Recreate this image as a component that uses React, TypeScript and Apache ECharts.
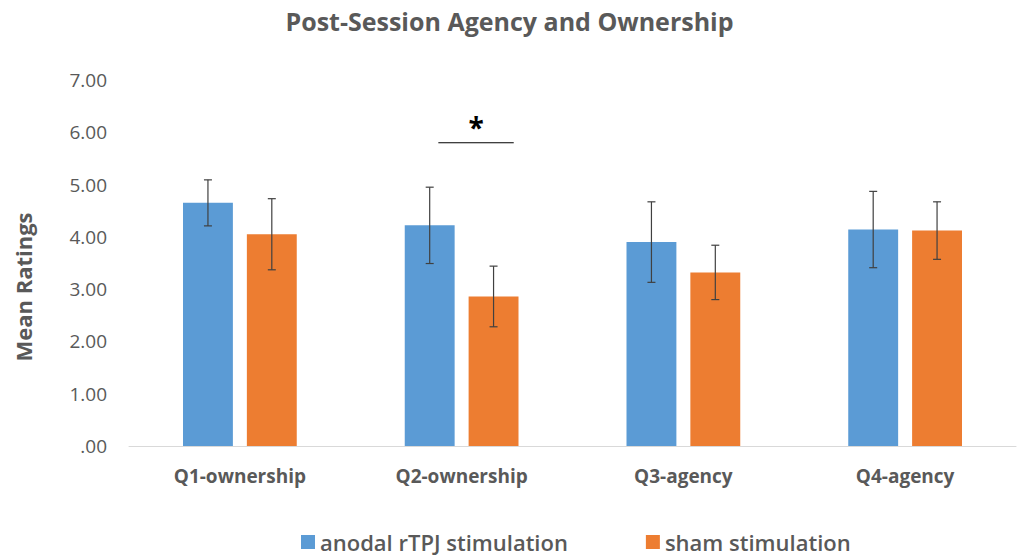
import React, { useEffect, useRef } from "react";
import * as echarts from "echarts";

const categories = ["Q1-ownership", "Q2-ownership", "Q3-agency", "Q4-agency"];
const seriesNames = ["anodal rTPJ stimulation", "sham stimulation"];
const anodalMeans = [4.65, 4.22, 3.9, 4.14];
const anodalErr = [0.44, 0.73, 0.77, 0.73];
const shamMeans = [4.05, 2.86, 3.32, 4.12];
const shamErr = [0.68, 0.58, 0.52, 0.55];
const sigCategoryIndex = 1;
const sigLevel = 5.8;
const sigLabel = "*";

const BLUE = "#5B9BD5";
const ORANGE = "#ED7D31";
const FONT = "'Open Sans', sans-serif";

export default function App() {
  const ref = useRef<HTMLDivElement>(null);
  useEffect(() => {
    document.body.style.margin = "0";
    if (!ref.current) return;
    const chart = echarts.init(ref.current, null, { renderer: "svg" });
    const barWidthPct = 0.225;
    const gapPct = 0.28;
    const makeErr = (means: number[], errs: number[], idx: number) => ({
      type: "custom",
      name: seriesNames[idx] + " err",
      z: 10,
      silent: true,
      data: means.map((m, i) => [i, m - errs[i], m + errs[i]]),
      renderItem: (params: any, api: any) => {
        const i = api.value(0);
        const lo = api.coord([i, api.value(1)]);
        const hi = api.coord([i, api.value(2)]);
        const band = api.size([1, 0])[0];
        const bw = band * barWidthPct;
        const gap = bw * gapPct;
        const offset = ((bw + gap) / 2) * (idx === 0 ? -1 : 1);
        const x = lo[0] + offset;
        const cap = 4;
        const style = { stroke: "#404040", lineWidth: 1.2 };
        return {
          type: "group",
          children: [
            { type: "line", shape: { x1: x, y1: hi[1], x2: x, y2: lo[1] }, style },
            { type: "line", shape: { x1: x - cap, y1: hi[1], x2: x + cap, y2: hi[1] }, style },
            { type: "line", shape: { x1: x - cap, y1: lo[1], x2: x + cap, y2: lo[1] }, style },
          ],
        };
      },
    });
    chart.setOption({
      animation: false,
      title: {
        text: "Post-Session Agency and Ownership",
        left: "center",
        top: 3,
        textStyle: { fontFamily: FONT, fontWeight: "bold", fontSize: 25, color: "#595959" },
      },
      grid: { left: 129, right: 3, top: 80, bottom: 110 },
      legend: {
        top: 526,
        left: 296,
        data: seriesNames,
        itemWidth: 14,
        itemHeight: 14,
        itemGap: 78,
        icon: "rect",
        textStyle: { fontFamily: FONT, fontSize: 22, fontWeight: 600, color: "#595959" },
      },
      xAxis: {
        type: "category",
        data: categories,
        axisLine: { lineStyle: { color: "#D9D9D9" } },
        axisTick: { show: false },
        axisLabel: { fontFamily: FONT, fontSize: 19, fontWeight: "bold", color: "#595959", margin: 20 },
      },
      yAxis: {
        type: "value",
        min: 0,
        max: 7,
        interval: 1,
        name: "Mean Ratings",
        nameLocation: "middle",
        nameGap: 95,
        nameRotate: 90,
        nameTextStyle: {
          fontFamily: FONT,
          fontSize: 22,
          fontWeight: "bold",
          color: "#595959",
          padding: [0, 48, 0, 0],
        },
        splitLine: { show: false },
        axisLine: { show: false },
        axisTick: { show: false },
        axisLabel: {
          fontFamily: FONT,
          fontSize: 19,
          color: "#595959",
          margin: 22,
          formatter: (v: number) => (v === 0 ? ".00" : v.toFixed(2)),
        },
      },
      series: [
        {
          type: "bar",
          name: seriesNames[0],
          data: anodalMeans,
          barWidth: "22.5%",
          barGap: "28%",
          itemStyle: { color: BLUE },
        },
        {
          type: "bar",
          name: seriesNames[1],
          data: shamMeans,
          barWidth: "22.5%",
          barGap: "28%",
          itemStyle: { color: ORANGE },
        },
        makeErr(anodalMeans, anodalErr, 0),
        makeErr(shamMeans, shamErr, 1),
        {
          type: "custom",
          name: "significance",
          silent: true,
          z: 10,
          data: [[sigCategoryIndex, sigLevel]],
          renderItem: (params: any, api: any) => {
            const p = api.coord([api.value(0), api.value(1)]);
            const band = api.size([1, 0])[0];
            const x1 = p[0] - band * 0.105;
            const x2 = p[0] + band * 0.235;
            return {
              type: "group",
              children: [
                { type: "line", shape: { x1, y1: p[1], x2, y2: p[1] }, style: { stroke: "#000", lineWidth: 1.2 } },
                {
                  type: "text",
                  x: (x1 + x2) / 2,
                  y: p[1] - 2,
                  style: {
                    text: sigLabel,
                    fontFamily: FONT,
                    fontSize: 28,
                    fontWeight: "bold",
                    fill: "#000",
                    align: "center",
                    verticalAlign: "bottom",
                  },
                },
              ],
            };
          },
        },
      ],
    });
    return () => chart.dispose();
  }, []);
  return <div ref={ref} style={{ width: 1019, height: 556 }} />;
}
